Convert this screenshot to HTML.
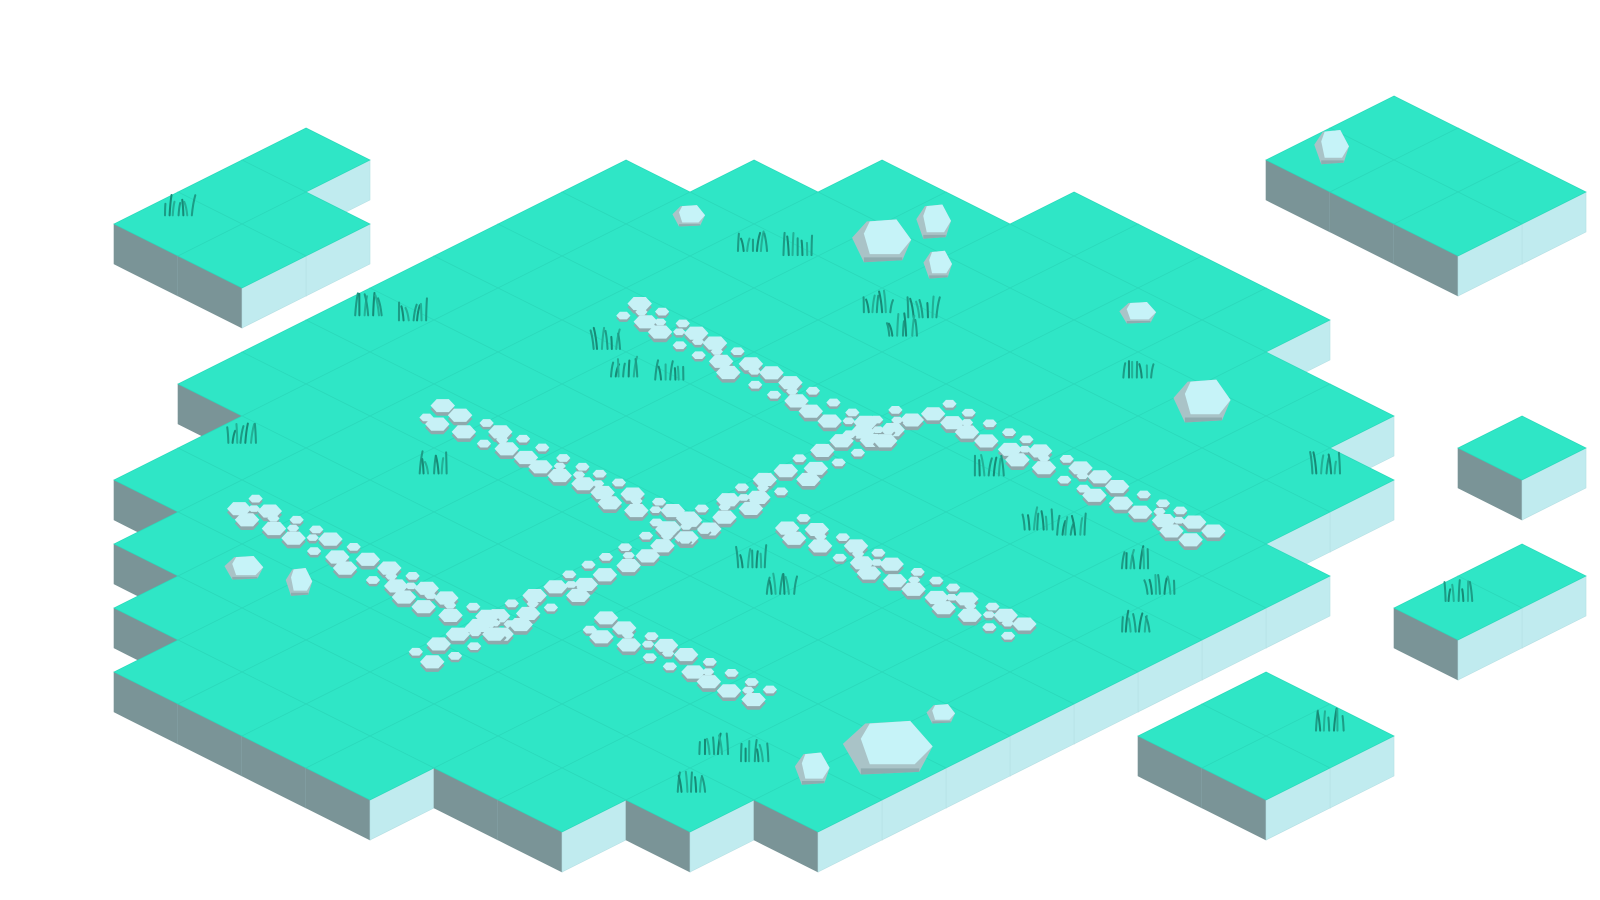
<!DOCTYPE html>
<html><head><meta charset="utf-8"><style>
html,body{margin:0;padding:0;background:#fff;width:1600px;height:900px;overflow:hidden}
svg{display:block}
</style></head><body>
<svg id="s" width="1600" height="900" viewBox="0 0 1600 900" xmlns="http://www.w3.org/2000/svg">
<g id="tiles"></g>
<g id="deco" transform="scale(1.0204)"></g>
</svg>
<script>
(function(){
var NS="http://www.w3.org/2000/svg";
var tiles=document.getElementById('tiles'), deco=document.getElementById('deco');
function el(p,tag,a){var e=document.createElementNS(NS,tag);for(var k in a)e.setAttribute(k,a[k]);p.appendChild(e);return e;}
var OX=626,OY=160,HW=64,HH=32,D=40;
var list=[];
function add(i,j){list.push([i,j]);}
var rows={"-3":[4,7],"-2":[2,9],"-1":[1,10],"0":[0,10],"1":[0,11],"2":[0,11],"3":[0,11],"4":[0,11],"5":[0,11],"6":[0,11],"7":[1,11],"8":[1,11],"9":[2,10],"10":[3,9],"11":[4,7]};
for(var j in rows){for(var i=rows[j][0];i<=rows[j][1];i++)add(i,+j);}
[[-3,2],[-3,3],[-3,4],[-2,3],[-2,4]].forEach(function(t){add(t[0],t[1]);});
for(var i=5;i<=7;i++)for(var j=-7;j<=-6;j++)add(i,j);
add(11,-3);add(13,-1);add(13,0);
for(var i=13;i<=14;i++)for(var j=3;j<=4;j++)add(i,j);
list.sort(function(a,b){return (a[0]+a[1])-(b[0]+b[1])||a[0]-b[0];});
list.forEach(function(t){
 var x=OX+(t[0]-t[1])*HW, y=OY+(t[0]+t[1])*HH;
 var T=[x,y],R=[x+HW,y+HH],B=[x,y+2*HH],L=[x-HW,y+HH];
 function p(a){return a.map(function(q){return q[0]+','+q[1];}).join(' ');}
 el(tiles,'polygon',{points:p([L,B,[B[0],B[1]+D],[L[0],L[1]+D]]),fill:'#7a9497',stroke:'#7a9497','stroke-width':0.6});
 el(tiles,'polygon',{points:p([B,R,[R[0],R[1]+D],[B[0],B[1]+D]]),fill:'#c0ebef',stroke:'#b4dfe3','stroke-width':0.6});
 el(tiles,'polygon',{points:p([T,R,B,L]),fill:'#2fe6c6',stroke:'#2bd9bb','stroke-width':0.7});
});
var s=11;function rnd(){s=(s*16807)%2147483647;return s/2147483647;}
var stones=[];
function hex(cx,cy,r){
 var pts=[];
 for(var k=0;k<6;k++){var a=Math.PI/3*k;pts.push([cx+r*Math.cos(a),cy+r*0.62*Math.sin(a)]);}
 var f=function(a,dy){return a.map(function(q){return q[0].toFixed(1)+','+(q[1]+dy).toFixed(1);}).join(' ');};
 el(deco,'polygon',{points:f(pts,r>9?3.5:2.5),fill:'#8fa9ad'});
 el(deco,'polygon',{points:f(pts,0),fill:'#c7f1f6'});
}
function strip(x0,y0,x1,y1,px,py){
 var dx=x1-x0,dy=y1-y0,L=Math.sqrt(dx*dx+dy*dy),n=Math.round(L/21);
 var ux=dx/L,uy=dy/L;
 var pat=[[[-10,0,12],[12,4,7]],[[-14,0,7],[6,2,12]],[[-8,0,12],[14,-3,12]],[[-13,3,7],[9,0,12]]];
 for(var k=0;k<=n;k++){
  var t=k/n,cx=x0+dx*t,cy=y0+dy*t;
  var row=pat[(k+Math.floor(rnd()*2))%pat.length];
  row.forEach(function(o){
   stones.push([cx+px*o[0]+ux*o[1],cy+py*o[0]+uy*o[1],o[2]]);
  });
  if(rnd()<0.5) stones.push([cx+ux*10-px*2,cy+uy*10-py*2,6]);
 }
}
var dlx=-0.89,dly=0.45, drx=0.89,dry=0.45;
strip(618,302,858,428,dlx,dly);
strip(918,402,1182,524,dlx,dly);
strip(425,402,688,522,dlx,dly);
strip(775,514,995,616,dlx,dly);
strip(238,495,488,618,dlx,dly);
strip(585,610,742,682,dlx,dly);
strip(890,408,420,645,drx,dry);
stones.sort(function(a,b){return a[1]-b[1];});
stones.forEach(function(st){hex(st[0],st[1],st[2]);});
function rock(cx,cy,w,h){
 var f=function(a){return a.map(function(q){return q[0].toFixed(1)+','+q[1].toFixed(1);}).join(' ');};
 var pts=[[cx-w*0.5,cy-h*0.1],[cx-w*0.25,cy-h*0.5],[cx+w*0.25,cy-h*0.55],[cx+w*0.5,cy-h*0.05],[cx+w*0.35,cy+h*0.45],[cx-w*0.3,cy+h*0.5]];
 el(deco,'polygon',{points:f(pts),fill:'#a9c3c7'});
 var top=[[cx-w*0.3,cy-h*0.2],[cx-w*0.2,cy-h*0.5],[cx+w*0.25,cy-h*0.55],[cx+w*0.5,cy-h*0.05],[cx+w*0.3,cy+h*0.3],[cx-w*0.2,cy+h*0.3]];
 el(deco,'polygon',{points:f(top),fill:'#c6f3f8'});
 el(deco,'polygon',{points:f([[cx-w*0.3,cy+h*0.38],[cx+w*0.35,cy+h*0.38],[cx+w*0.35,cy+h*0.45],[cx-w*0.3,cy+h*0.5]]),fill:'#8fabaf'});
}
rock(675,212,32,20);rock(864,237,58,40);rock(915,218,34,32);rock(919,260,28,26);
rock(1115,307,36,20);rock(1178,394,56,40);rock(239,557,38,22);rock(293,571,26,26);
rock(870,734,88,50);rock(796,754,34,30);rock(922,700,28,18);rock(1305,145,34,32);
function tuft(x,y){
 var cols=['#1c9c86','#178a76','#23b096'];
 for(var k=0;k<7;k++){
  var bx=x-14+k*4.5+(rnd()-0.5)*2,h=7+rnd()*11,lean=(rnd()-0.5)*7;
  el(deco,'path',{d:'M'+bx.toFixed(1)+','+(y+4)+' Q'+(bx+lean*0.3).toFixed(1)+','+(y-h*0.5).toFixed(1)+' '+(bx+lean).toFixed(1)+','+(y-h).toFixed(1),stroke:cols[k%3],'stroke-width':2,fill:'none','stroke-linecap':'round'});
 }
}
[[175,207],[362,305],[405,310],[738,242],[782,246],[860,302],[905,307],[885,325],[595,338],[612,365],[657,368],[237,430],[425,460],[1115,366],[970,462],[1300,460],[1018,515],[1050,520],[737,552],[765,578],[1113,553],[1138,578],[1113,615],[1430,585],[700,735],[740,742],[678,772],[1303,712]].forEach(function(g){tuft(g[0],g[1]);});
})();
</script>
</body></html>
